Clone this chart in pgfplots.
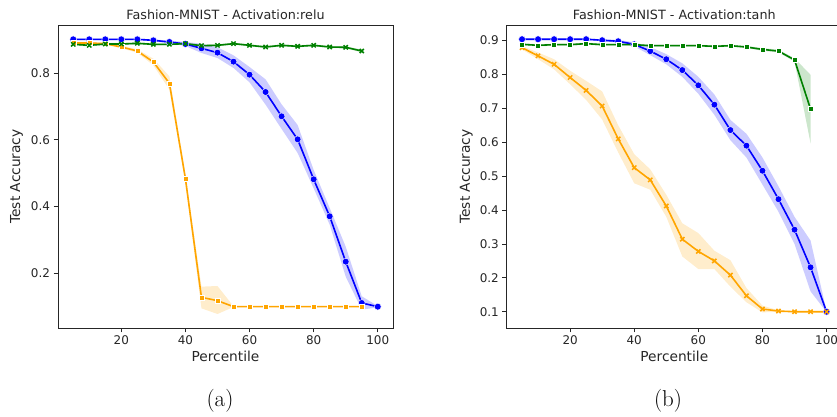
\documentclass[border=0pt]{standalone}
\usepackage{fontspec}
\usepackage{pgfplots}
\usepackage{pgfplotstable}
\pgfplotsset{compat=1.18}
\usepgfplotslibrary{fillbetween}
\newfontfamily\dv{DejaVu Sans}
\definecolor{mblue}{RGB}{0,0,255}
\definecolor{morange}{RGB}{255,165,0}
\definecolor{mgreen}{RGB}{0,128,0}
\definecolor{axgray}{RGB}{38,38,38}

% ---------- relu ----------
\pgfplotstableread{
x y lo hi
5 0.901 0.899 0.903
10 0.901 0.899 0.903
15 0.901 0.899 0.903
20 0.901 0.899 0.903
25 0.901 0.899 0.903
30 0.898 0.895 0.901
35 0.893 0.889 0.897
40 0.887 0.881 0.893
45 0.874 0.860 0.888
50 0.861 0.845 0.877
55 0.834 0.815 0.853
60 0.795 0.772 0.818
65 0.743 0.705 0.781
70 0.670 0.632 0.706
75 0.601 0.560 0.644
80 0.481 0.454 0.509
85 0.370 0.345 0.395
90 0.234 0.189 0.279
95 0.110 0.090 0.130
100 0.099 0.097 0.101
}\reluBlue
\pgfplotstableread{
x y lo hi
5 0.890 0.886 0.894
10 0.890 0.887 0.893
15 0.888 0.885 0.891
20 0.878 0.874 0.882
25 0.866 0.861 0.871
30 0.833 0.823 0.843
35 0.769 0.750 0.790
40 0.483 0.470 0.496
45 0.127 0.094 0.159
50 0.117 0.077 0.161
55 0.099 0.098 0.100
60 0.099 0.098 0.100
65 0.099 0.098 0.100
70 0.099 0.098 0.100
75 0.099 0.098 0.100
80 0.099 0.098 0.100
85 0.099 0.098 0.100
90 0.099 0.098 0.100
95 0.099 0.098 0.100
}\reluOrange
\pgfplotstableread{
x y lo hi
5 0.886 0.883 0.889
10 0.883 0.880 0.886
15 0.887 0.884 0.890
20 0.887 0.884 0.890
25 0.889 0.886 0.892
30 0.886 0.883 0.889
35 0.886 0.883 0.889
40 0.888 0.885 0.891
45 0.882 0.879 0.885
50 0.883 0.880 0.886
55 0.888 0.885 0.891
60 0.883 0.880 0.886
65 0.878 0.875 0.881
70 0.883 0.880 0.886
75 0.880 0.877 0.883
80 0.883 0.880 0.886
85 0.878 0.875 0.881
90 0.877 0.874 0.880
95 0.866 0.862 0.870
}\reluGreen

% ---------- tanh ----------
\pgfplotstableread{
x y lo hi
5 0.904 0.902 0.906
10 0.904 0.902 0.906
15 0.904 0.902 0.906
20 0.904 0.902 0.906
25 0.904 0.902 0.906
30 0.901 0.898 0.904
35 0.898 0.894 0.902
40 0.889 0.883 0.895
45 0.869 0.857 0.881
50 0.845 0.830 0.860
55 0.813 0.793 0.833
60 0.768 0.743 0.793
65 0.711 0.681 0.741
70 0.636 0.606 0.666
75 0.590 0.555 0.625
80 0.516 0.475 0.555
85 0.432 0.395 0.470
90 0.342 0.300 0.380
95 0.231 0.160 0.310
100 0.100 0.099 0.101
}\tanhBlue
\pgfplotstableread{
x y lo hi
5 0.879 0.874 0.884
10 0.855 0.845 0.865
15 0.830 0.815 0.845
20 0.791 0.771 0.811
25 0.753 0.725 0.781
30 0.707 0.667 0.750
35 0.610 0.570 0.650
40 0.525 0.479 0.565
45 0.489 0.460 0.520
50 0.412 0.380 0.445
55 0.314 0.263 0.361
60 0.278 0.226 0.332
65 0.250 0.226 0.280
70 0.208 0.174 0.252
75 0.147 0.128 0.170
80 0.108 0.098 0.118
85 0.102 0.100 0.104
90 0.100 0.099 0.101
95 0.100 0.099 0.101
100 0.100 0.099 0.101
}\tanhOrange
\pgfplotstableread{
x y lo hi
5 0.889 0.886 0.892
10 0.886 0.883 0.889
15 0.888 0.885 0.891
20 0.888 0.885 0.891
25 0.891 0.888 0.894
30 0.888 0.885 0.891
35 0.888 0.885 0.891
40 0.888 0.885 0.891
45 0.885 0.882 0.888
50 0.885 0.882 0.888
55 0.885 0.882 0.888
60 0.885 0.882 0.888
65 0.883 0.880 0.886
70 0.885 0.882 0.888
75 0.881 0.878 0.884
80 0.874 0.870 0.878
85 0.869 0.865 0.873
90 0.843 0.838 0.848
95 0.698 0.597 0.799
}\tanhGreen

\pgfplotsset{
  mystyle/.style={
    scale only axis, width=335bp, height=303bp,
    xmin=0.25, xmax=104.75,
    tick align=outside, major tick length=4.5bp,
    xtick pos=lower, ytick pos=left,
    tick style={line width=0.8bp, color=axgray},
    axis line style={line width=0.8bp, color=axgray},
    xtick={20,40,60,80,100},
    /pgf/number format/assume math mode=true,
    ticklabel style={font=\dv\fontsize{12}{14}\selectfont, text=axgray},
    yticklabel style={/pgf/number format/fixed, /pgf/number format/fixed zerofill, /pgf/number format/precision=1},
    label style={font=\dv\fontsize{13.8}{16}\selectfont, text=axgray},
    title style={font=\dv\fontsize{12.8}{15}\selectfont, text=axgray, at={(axis description cs:0.5,1.018)}, anchor=base, yshift=-6pt},
    xlabel style={at={(axis description cs:0.5,-0.1122)}, anchor=base},
    xlabel={Percentile}, ylabel={Test Accuracy},
  },
  band/.style={draw=none, fill=#1, fill opacity=0.2},
  bline/.style={mblue, line width=1.6bp, mark=*, mark size=3.4bp, mark options={fill=mblue, draw=white, line width=0.4bp, solid}},
  osq/.style={#1, line width=1.6bp, mark=square*, mark size=2.5bp, mark options={fill=#1, draw=white, line width=0.3bp, solid}},
  ox/.style={#1, line width=1.6bp, mark=x, mark size=3.0bp, mark options={draw=#1, line width=1.5bp, solid}},
}

\begin{document}
\begin{tikzpicture}

% ---------- (a) relu ----------
\begin{axis}[mystyle, at={(58bp,89bp)}, anchor=south west,
  ymin=0.035, ymax=0.944, ytick={0.2,0.4,0.6,0.8},
  ylabel style={at={(axis description cs:-0.1134,0.5)}, anchor=base},
  title={Fashion-MNIST - Activation:relu}]
  \addplot[name path=rbl, draw=none, forget plot] table[x=x,y=lo]{\reluBlue};
  \addplot[name path=rbh, draw=none, forget plot] table[x=x,y=hi]{\reluBlue};
  \addplot[band=mblue] fill between[of=rbl and rbh];
  \addplot[name path=rol, draw=none, forget plot] table[x=x,y=lo]{\reluOrange};
  \addplot[name path=roh, draw=none, forget plot] table[x=x,y=hi]{\reluOrange};
  \addplot[band=morange] fill between[of=rol and roh];
  \addplot[name path=rgl, draw=none, forget plot] table[x=x,y=lo]{\reluGreen};
  \addplot[name path=rgh, draw=none, forget plot] table[x=x,y=hi]{\reluGreen};
  \addplot[band=mgreen] fill between[of=rgl and rgh];
  \addplot[bline] table[x=x,y=y]{\reluBlue};
  \addplot[osq=morange] table[x=x,y=y]{\reluOrange};
  \addplot[ox=mgreen] table[x=x,y=y]{\reluGreen};
\end{axis}

% ---------- (b) tanh ----------
\begin{axis}[mystyle, at={(506.8bp,89bp)}, anchor=south west,
  ymin=0.052, ymax=0.946, ytick={0.1,0.2,0.3,0.4,0.5,0.6,0.7,0.8,0.9},
  ylabel style={at={(axis description cs:-0.110,0.5)}, anchor=base},
  title={Fashion-MNIST - Activation:tanh}]
  \addplot[name path=tbl, draw=none, forget plot] table[x=x,y=lo]{\tanhBlue};
  \addplot[name path=tbh, draw=none, forget plot] table[x=x,y=hi]{\tanhBlue};
  \addplot[band=mblue] fill between[of=tbl and tbh];
  \addplot[name path=tol, draw=none, forget plot] table[x=x,y=lo]{\tanhOrange};
  \addplot[name path=toh, draw=none, forget plot] table[x=x,y=hi]{\tanhOrange};
  \addplot[band=morange] fill between[of=tol and toh];
  \addplot[name path=tgl, draw=none, forget plot] table[x=x,y=lo]{\tanhGreen};
  \addplot[name path=tgh, draw=none, forget plot] table[x=x,y=hi]{\tanhGreen};
  \addplot[band=mgreen] fill between[of=tgl and tgh];
  \addplot[bline] table[x=x,y=y]{\tanhBlue};
  \addplot[ox=morange] table[x=x,y=y]{\tanhOrange};
  \addplot[osq=mgreen] table[x=x,y=y]{\tanhGreen};
\end{axis}

\node[anchor=base, font=\fontsize{23}{27}\selectfont] at (220bp,11bp) {(a)};
\node[anchor=base, font=\fontsize{23}{27}\selectfont] at (668bp,11bp) {(b)};

\pgfresetboundingbox
\useasboundingbox (0,0) rectangle (837bp,417bp);
\end{tikzpicture}
\end{document}
